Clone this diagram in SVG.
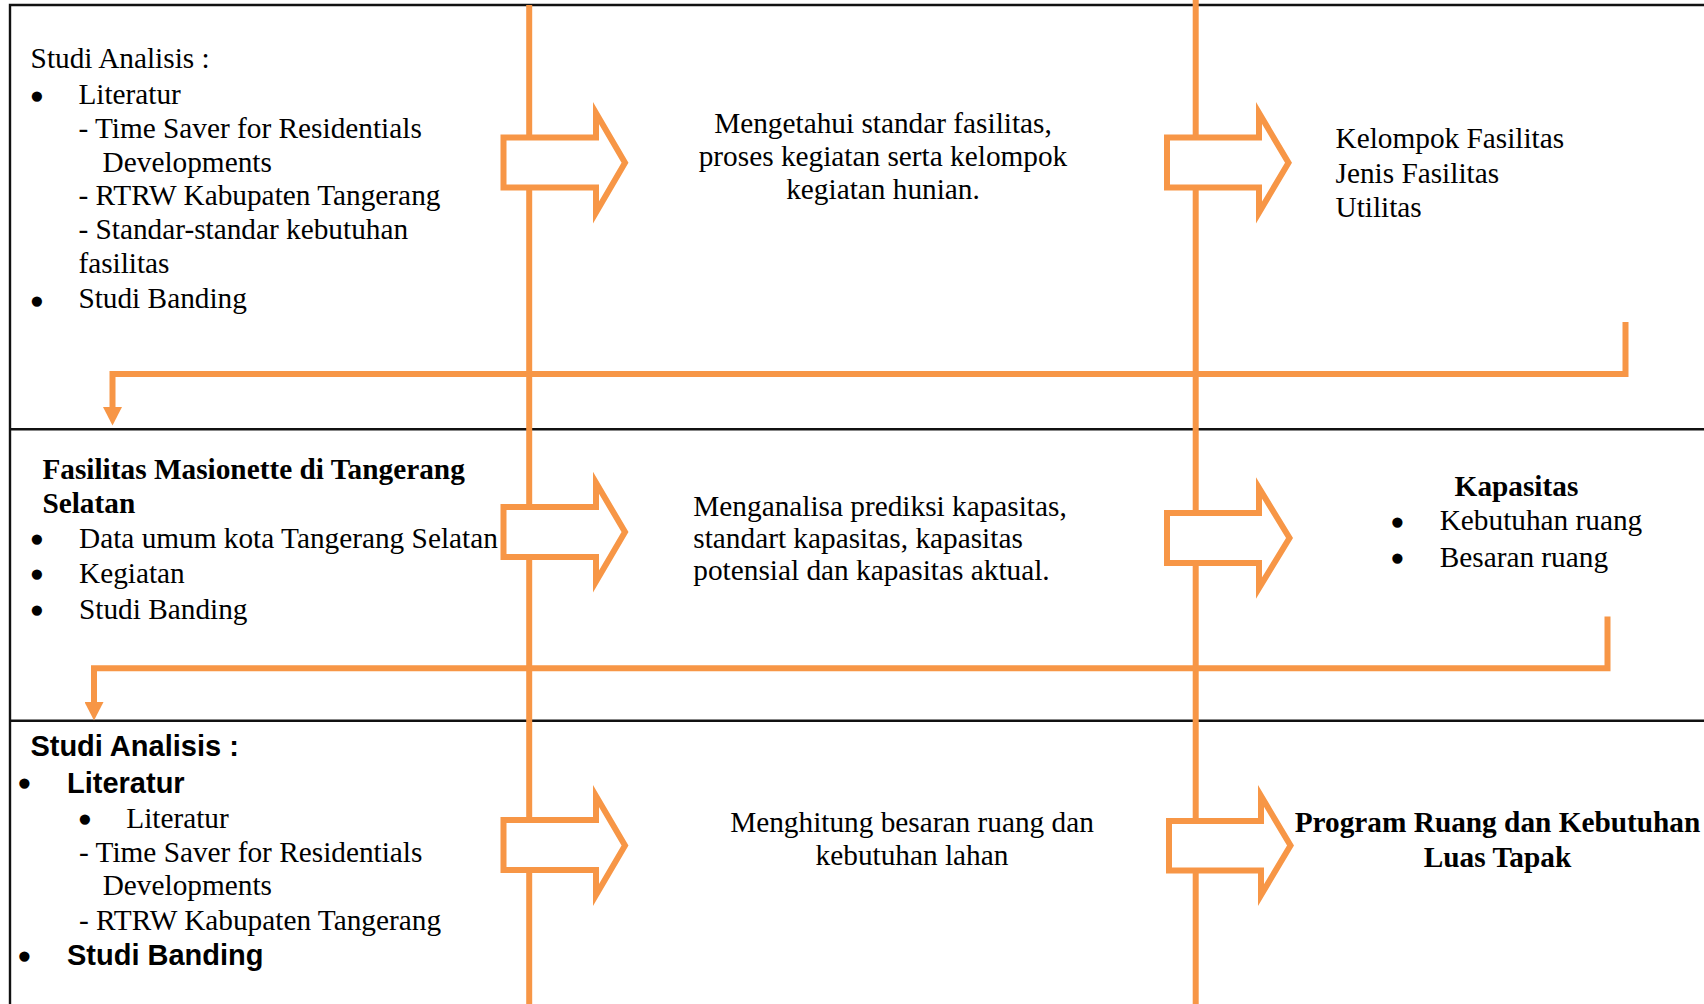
<svg xmlns="http://www.w3.org/2000/svg" width="1704" height="1004" viewBox="0 0 1704 1004">
<style>
.t{font-family:"Liberation Serif","Times New Roman",serif;font-size:29.3px;fill:#000}
.b{font-weight:bold}
.s{font-family:"Liberation Sans",Arial,sans-serif;font-size:29px;font-weight:bold;fill:#000}
.m{text-anchor:middle}
.bu{font-family:"Liberation Serif","Times New Roman",serif;font-size:29.3px;fill:#000;stroke:#000;stroke-width:3.2;text-anchor:middle}
.grid{stroke:#111;stroke-width:2.4;fill:none}
.lane{stroke:#F79646;stroke-width:6;fill:none}
.conn{stroke:#F79646;stroke-width:6;fill:none;stroke-linejoin:miter}
.blk{stroke:#F79646;stroke-width:6;fill:#fff;stroke-linejoin:miter;stroke-miterlimit:10}
</style>
<defs>
<marker id="ah" markerUnits="userSpaceOnUse" markerWidth="19" markerHeight="19" refX="0" refY="9.5" orient="auto" viewBox="0 0 19 19">
<path d="M0,0 L18.5,9.5 L0,19 Z" fill="#F79646"/>
</marker>
</defs>
<rect width="1704" height="1004" fill="#fff"/>
<g id="table">
<path class="grid" d="M10,1004 V5 H1704 M10,429.3 H1704 M10,720.7 H1704"/>
</g>
<g id="lanes">
<path class="lane" d="M529.2,5 V1004"/>
<path class="lane" d="M1195.7,0 V1004"/>
</g>
<g id="connectors">
<path class="conn" d="M1625.5,322 V374 H112.5 V407" marker-end="url(#ah)"/>
<path class="conn" d="M1607.5,616.5 V668.3 H94 V702" marker-end="url(#ah)"/>
</g>
<g id="arrows">
<polygon id="arrow-a" class="blk" points="503.5,137.5 596,137.5 596,113 625,162.7 596,212.5 596,187.5 503.5,187.5"/>
<polygon id="arrow-b" class="blk" points="1167,137.5 1259,137.5 1259,113 1288.5,162.7 1259,212.5 1259,187.5 1167,187.5"/>
<polygon id="arrow-c" class="blk" points="503.5,507 596,507 596,482.8 625,532 596,581.5 596,557 503.5,557"/>
<polygon id="arrow-d" class="blk" points="1167,513 1259,513 1259,488 1289.5,538 1259,588 1259,563 1167,563"/>
<polygon id="arrow-e" class="blk" points="503.5,820 596,820 596,796 625,845.5 596,895 596,870 503.5,870"/>
<polygon id="arrow-f" class="blk" points="1169,821 1261,821 1261,796 1290.5,845.5 1261,895 1261,870.5 1169,870.5"/>
</g>
<g id="r1c1">
<text class="t" x="30.6" y="68.3">Studi Analisis :</text>
<text class="bu" x="36.8" y="107">•</text>
<text class="t" x="78.4" y="104.3">Literatur</text>
<text class="t" x="78.4" y="137.7">- Time Saver for Residentials</text>
<text class="t" x="102.6" y="171.7">Developments</text>
<text class="t" x="78.4" y="205">- RTRW Kabupaten Tangerang</text>
<text class="t" x="78.4" y="239">- Standar-standar kebutuhan</text>
<text class="t" x="78.4" y="272.7">fasilitas</text>
<text class="bu" x="36.8" y="311.7">•</text>
<text class="t" x="78.4" y="308.3">Studi Banding</text>
</g>
<g id="r1c2">
<text class="t m" x="883" y="132.7">Mengetahui standar fasilitas,</text>
<text class="t m" x="883" y="166">proses kegiatan serta kelompok</text>
<text class="t m" x="883" y="199.3">kegiatan hunian.</text>
</g>
<g id="r1c3">
<text class="t" x="1335.5" y="148.3">Kelompok Fasilitas</text>
<text class="t" x="1335.5" y="182.7">Jenis Fasilitas</text>
<text class="t" x="1335.5" y="217.3">Utilitas</text>
</g>
<g id="r2c1">
<text class="t b" x="42.4" y="479.3">Fasilitas Masionette di Tangerang</text>
<text class="t b" x="42.4" y="512.7">Selatan</text>
<text class="bu" x="37" y="550">•</text>
<text class="t" x="79" y="547.7">Data umum kota Tangerang Selatan</text>
<text class="bu" x="37" y="585">•</text>
<text class="t" x="79" y="583.3">Kegiatan</text>
<text class="bu" x="37" y="621">•</text>
<text class="t" x="79" y="619.3">Studi Banding</text>
</g>
<g id="r2c2">
<text class="t" x="693.3" y="516">Menganalisa prediksi kapasitas,</text>
<text class="t" x="693.3" y="548">standart kapasitas, kapasitas</text>
<text class="t" x="693.3" y="580">potensial dan kapasitas aktual.</text>
</g>
<g id="r2c3">
<text class="t b" x="1454.6" y="496">Kapasitas</text>
<text class="bu" x="1397.5" y="532.7">•</text>
<text class="t" x="1439.7" y="530">Kebutuhan ruang</text>
<text class="bu" x="1397.5" y="569.3">•</text>
<text class="t" x="1439.7" y="566.7">Besaran ruang</text>
</g>
<g id="r3c1">
<text class="s" x="30.4" y="756">Studi Analisis :</text>
<text class="bu" x="24.5" y="794.3">•</text>
<text class="s" x="67" y="792.7">Literatur</text>
<text class="bu" x="85" y="830">•</text>
<text class="t" x="126.3" y="828.3">Literatur</text>
<text class="t" x="79" y="861.7">- Time Saver for Residentials</text>
<text class="t" x="102.7" y="895">Developments</text>
<text class="t" x="79" y="930">- RTRW Kabupaten Tangerang</text>
<text class="bu" x="24.5" y="966.7">•</text>
<text class="s" x="67" y="965">Studi Banding</text>
</g>
<g id="r3c2">
<text class="t m" x="912" y="831.7">Menghitung besaran ruang dan</text>
<text class="t m" x="912" y="865">kebutuhan lahan</text>
</g>
<g id="r3c3">
<text class="t b m" x="1497.5" y="831.7">Program Ruang dan Kebutuhan</text>
<text class="t b m" x="1497.5" y="866.7">Luas Tapak</text>
</g>
</svg>
